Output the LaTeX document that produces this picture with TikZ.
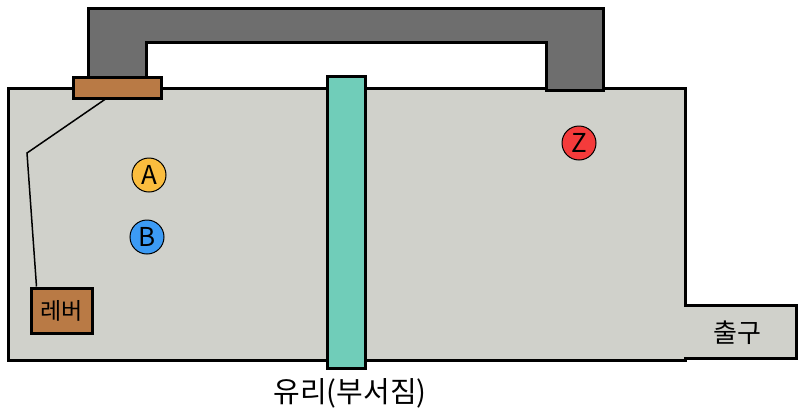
\documentclass[tikz,border=0pt]{standalone}
\usepackage{fontspec}
\setmainfont{Noto Sans CJK KR}
\usetikzlibrary{positioning}
\definecolor{roomgray}{HTML}{D0D1CB}
\definecolor{pipegray}{HTML}{6E6E6E}
\definecolor{leverbrown}{HTML}{B97A45}
\definecolor{glassteal}{HTML}{70CDB9}
\definecolor{ballorange}{HTML}{FBBD3E}
\definecolor{ballblue}{HTML}{3C9BF5}
\definecolor{ballred}{HTML}{F43B3B}
\tikzset{
        wall/.style={draw=black, line width=3pt, line join=miter},
        % Room floor
        room_area/.style={wall, fill=roomgray},
        % Overhead pipe
        pipe_part/.style={wall, fill=pipegray},
        % Lever parts
        lever_part/.style={wall, fill=leverbrown},
        % Glass wall
        glass_part/.style={wall, fill=glassteal},
        % Balls
        ball/.style={circle, draw=black, line width=1pt, minimum size=34pt, inner sep=0pt, font=\fontsize{26}{26}\selectfont},
        % Labels
        room_label/.style={inner sep=0pt, font=\fontsize{26}{26}\selectfont}
}
\begin{document}
\begin{tikzpicture}[x=1pt, y=-1pt]
    \useasboundingbox (0,0) rectangle (800,410);
    % room with exit
    \draw[room_area] (8,88) -- (685,88) -- (685,305) -- (796,305) -- (796,358)
        -- (685,358) -- (685,360) -- (8,360) -- cycle;
    % pipe over the room
    \draw[pipe_part] (88,8) -- (603,8) -- (603,90) -- (546,90) -- (546,42)
        -- (146,42) -- (146,90) -- (88,90) -- cycle;
    \node[lever_part, minimum width=88pt, minimum height=21pt, inner sep=0pt] (plate) at (117,87.5) {};
    % glass
    \node[glass_part, minimum width=38pt, minimum height=292pt, inner sep=0pt] (glass) at (346,222) {};
    \node[room_label, font=\fontsize{29}{29}\selectfont, below=9pt of glass, xshift=4pt] (glass_label) {유리(부서짐)};
    % lever
    \node[lever_part, minimum width=61pt, minimum height=45pt, inner sep=0pt, font=\fontsize{23}{23}\selectfont] (lever) at (61.5,310.5) {레버};
    \coordinate (wire_top) at (107,98);
    \coordinate (wire_bend) at (27,153);
    \draw[line width=1.5pt] (wire_top) -- (wire_bend) -- ([xshift=7pt]lever.north west);
    % balls
    \node[ball, fill=ballorange] (ball_a) at (149,175) {A};
    \node[ball, fill=ballblue] (ball_b) at (147,237) {B};
    \node[ball, fill=ballred] (ball_z) at (579,143) {Z};
    % exit
    \node[room_label] (exit) at (737,333) {출구};
\end{tikzpicture}
\end{document}
